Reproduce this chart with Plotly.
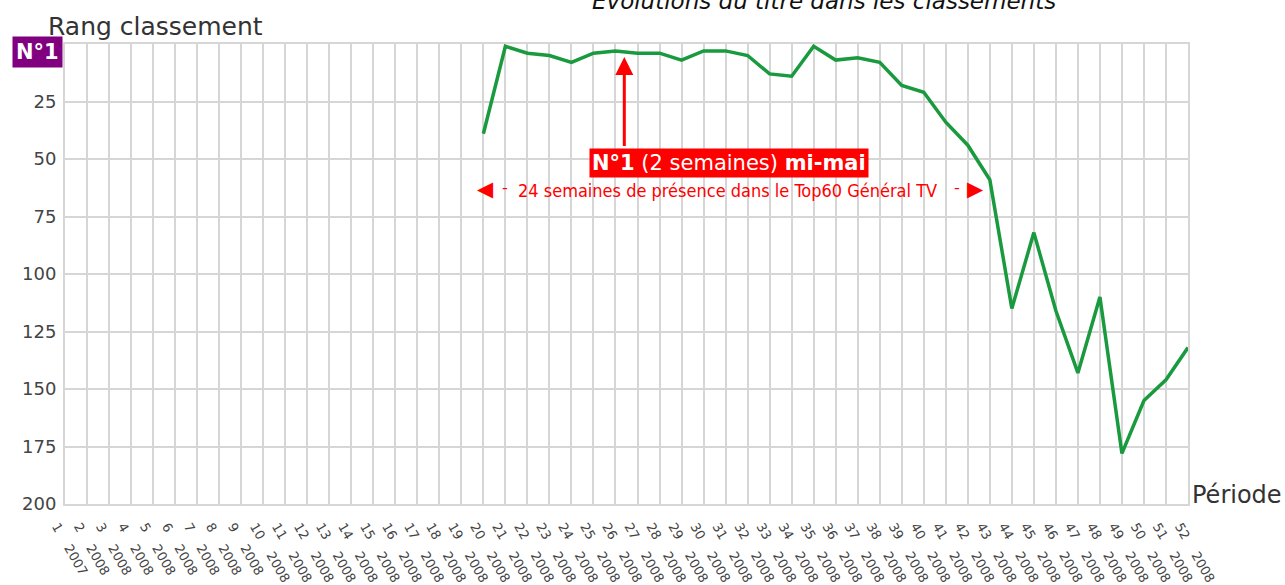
import plotly.graph_objects as go

weeks = list(range(1, 53))
years = ["2007"] + ["2008"] * 51
week_labels = [f"{w}\u00a0\u00a0\u00a0\u00a0{y}" for w, y in zip(weeks, years)]

ranks = [None] * 19 + [39, 1, 4, 5, 8, 4, 3, 4, 4, 7, 3, 3, 5, 13, 14, 1, 7, 6, 8,
                       18, 21, 34, 44, 59, 115, 82, 116, 143, 110, 178, 155, 146, 132]

y_ticks = [25, 50, 75, 100, 125, 150, 175, 200]

FONT = "DejaVu Sans"
GRID = "#d6d6d6"
GREEN = "#1a9a3e"

fig = go.Figure()
fig.add_trace(go.Scatter(x=weeks, y=ranks, mode="lines",
                         line=dict(color=GREEN, width=3.5), connectgaps=False,
                         hoverinfo="x+y"))

ann = []
# title (cut off at top)
ann.append(dict(text="<i>Évolutions du titre dans les classements</i>", xref="paper", yref="paper",
                x=(824 - 65) / 1123, y=1.072, xanchor="center", yanchor="bottom", showarrow=False,
                yshift=-5,
                font=dict(family=FONT, size=23, color="#111")))
ann.append(dict(text="Rang classement", xref="paper", yref="paper",
                x=(46 - 65) / 1123, y=1.0, xanchor="left", yanchor="bottom", showarrow=False,
                yshift=1,
                font=dict(family=FONT, size=25, color="#333")))
ann.append(dict(text="Période", xref="paper", yref="paper",
                x=1.002, y=0.0, xanchor="left", yanchor="bottom", showarrow=False, yshift=-7,
                font=dict(family=FONT, size=24, color="#333")))
ann.append(dict(text="<b>N°1</b>", xref="paper", yref="y",
                x=(37 - 65) / 1123, y=3.6, xanchor="center", yanchor="middle", showarrow=False,
                bgcolor="#800080", borderpad=3,
                font=dict(family=FONT, size=21, color="white")))
# arrow
ann.append(dict(text="", x=26.4, y=5.6, ax=26.4, ay=45, xref="x", yref="y", axref="x", ayref="y",
                showarrow=True, arrowhead=2, arrowsize=1.2, arrowwidth=3, arrowcolor="red"))
ann.append(dict(text="<b>N°1</b> (2 semaines) <b>mi-mai</b>", x=31.15, y=51.8, xref="x", yref="y",
                xanchor="center", yanchor="middle", showarrow=False, bgcolor="red", borderpad=2,
                font=dict(family=FONT, size=21, color="white")))
ann.append(dict(text="24 semaines de présence dans le Top60 Général TV", x=31.1, y=63.5,
                xref="x", yref="y", xanchor="center", yanchor="middle", showarrow=False,
                font=dict(family="DejaVu Sans Condensed, Liberation Sans", size=18, color="red")))
ann.append(dict(text="◀", x=20.1, y=63, xref="x", yref="y", xanchor="center", yanchor="middle",
                showarrow=False, font=dict(family=FONT, size=21, color="red")))
ann.append(dict(text="▶", x=42.35, y=63, xref="x", yref="y", xanchor="center", yanchor="middle",
                showarrow=False, font=dict(family=FONT, size=21, color="red")))
ann.append(dict(text="-", x=21.0, y=62.5, xref="x", yref="y", xanchor="center", yanchor="middle",
                showarrow=False, font=dict(family=FONT, size=16, color="red")))
ann.append(dict(text="-", x=41.5, y=62.5, xref="x", yref="y", xanchor="center", yanchor="middle",
                showarrow=False, font=dict(family=FONT, size=16, color="red")))

fig.update_layout(
    width=1285, height=585,
    margin=dict(l=65, r=97, t=44, b=81, autoexpand=False),
    paper_bgcolor="white", plot_bgcolor="white",
    showlegend=False,
    annotations=ann,
    xaxis=dict(range=[1, 52], tickmode="array", tickvals=weeks, ticktext=week_labels,
               tickangle=60, showgrid=True, gridcolor=GRID, gridwidth=2, zeroline=False,
               showline=True, linecolor=GRID, linewidth=2, mirror=True, ticks="",
               ticklabelshift=-8, ticklabelstandoff=8, automargin=False,
               tickfont=dict(family=FONT, size=13, color="#444")),
    yaxis=dict(range=[200, 0], tickmode="array", tickvals=y_ticks, automargin=False,
               showgrid=True, gridcolor=GRID, gridwidth=2, zeroline=False,
               showline=True, linecolor=GRID, linewidth=2, mirror=True, ticks="",
               ticklabelstandoff=3,
               tickfont=dict(family=FONT, size=18, color="#444")),
)

fig.write_html("out.html", config={"displayModeBar": False},
               post_script="document.body.style.margin='0';document.body.style.overflow='hidden';")
